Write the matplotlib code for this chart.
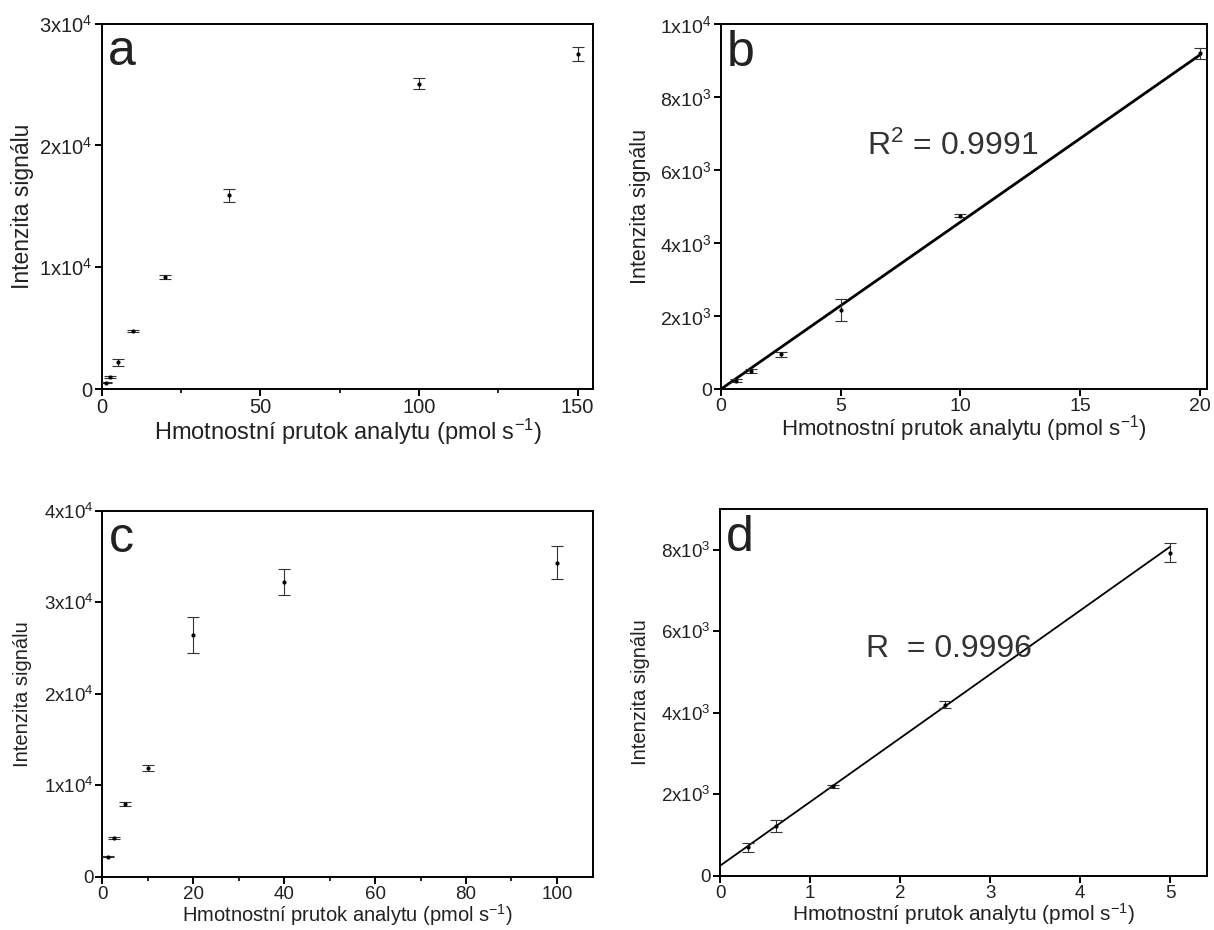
import numpy as np
import matplotlib
matplotlib.use("Agg")
import matplotlib.pyplot as plt
from matplotlib.ticker import FixedLocator, FuncFormatter, MultipleLocator

plt.rcParams['font.family'] = ['Liberation Sans', 'DejaVu Sans']
plt.rcParams['mathtext.fontset'] = 'custom'
plt.rcParams['mathtext.rm'] = 'Liberation Sans'
plt.rcParams['mathtext.it'] = 'Liberation Sans:italic'
plt.rcParams['mathtext.default'] = 'regular'

# prvni sada (a, b)
prutok_1 = [0.625, 1.25, 2.5, 5, 10, 20, 40, 100, 150]
signal_1 = [230, 510, 960, 2180, 4760, 9210, 15900, 25050, 27500]
chyba_1 = [40, 50, 70, 300, 50, 150, 550, 450, 600]

# druha sada (c, d)
prutok_2 = [0.3125, 0.625, 1.25, 2.5, 5, 10, 20, 40, 100]
signal_2 = [700, 1230, 2200, 4200, 7930, 11900, 26400, 32200, 34300]
chyba_2 = [110, 140, 40, 90, 230, 350, 2000, 1400, 1800]

# kalibracni primky (smernice, usek)
primka_b = (458, 0)
primka_d = (1565, 250)
rozsah_b = (0, 20)
rozsah_d = (0, 5)

text_b = 'R$^{2}$ = 0.9991'
text_d = 'R  = 0.9996'

xlabel = 'Hmotnostní prutok analytu (pmol s$^{-1}$)'
ylabel = 'Intenzita signálu'
barva_textu = '#222222'


def exp_format(exponent):
    def f(v, pos):
        if v == 0:
            return '0'
        return '%dx10$^{%d}$' % (round(v / 10**exponent), exponent)
    return FuncFormatter(f)


def panel(pozice, x, y, err, xlim, ylim, yticks, exponent, pismeno,
          minor=None, fx=15, fy=15, fticks=14.5, lx=-0.1, ly=-0.164):
    ax = plt.axes(pozice)
    ax.errorbar(x, y, yerr=err, fmt='o', ms=2.0, color='black', mfc='black',
                ecolor='#333333', elinewidth=0.8, capsize=4.5, capthick=0.8, zorder=3)
    ax.set_xlim(*xlim)
    ax.set_ylim(*ylim)
    ax.yaxis.set_major_locator(FixedLocator(yticks))
    ax.yaxis.set_major_formatter(exp_format(exponent))
    if minor is not None:
        ax.xaxis.set_minor_locator(MultipleLocator(minor))
    for s in ax.spines.values():
        s.set_linewidth(1.4)
    ax.tick_params(which='major', direction='out', length=5, width=1.4, pad=1.5,
                   labelsize=fticks, colors='black', labelcolor=barva_textu)
    ax.tick_params(which='minor', direction='out', length=3, width=1.2)
    ax.set_xlabel(xlabel, fontsize=fx, color=barva_textu, va='center')
    ax.set_ylabel(ylabel, fontsize=fy, color=barva_textu, va='center')
    ax.xaxis.set_label_coords(0.5, lx)
    ax.yaxis.set_label_coords(ly, 0.5)
    ax.text(0.013, 0.886, pismeno, transform=ax.transAxes, fontsize=36,
            color=barva_textu, ha='left', va='baseline')
    return ax


fig = plt.figure(figsize=(12.14, 9.30), dpi=100)

# a
ax = panel([0.0838, 0.5817, 0.405, 0.393], prutok_1[1:], signal_1[1:], chyba_1[1:],
           (0, 155), (0, 30000), [0, 10000, 20000, 30000], 4, 'a', minor=25,
           fx=17, fy=16.5, fticks=14.5, lx=-0.117, ly=-0.162)
ax.xaxis.set_major_locator(MultipleLocator(50))

# b
ax = panel([0.5937, 0.5814, 0.4006, 0.3925], prutok_1[:6], signal_1[:6], chyba_1[:6],
           (0, 20.3), (0, 10000), [0, 2000, 4000, 6000, 8000, 10000], 3, 'b',
           fx=16, fy=15.5, fticks=14, lx=-0.108, ly=-0.166)
ax.set_yticklabels(['0', '2x10$^{3}$', '4x10$^{3}$', '6x10$^{3}$', '8x10$^{3}$', '1x10$^{4}$'])
ax.xaxis.set_major_locator(MultipleLocator(5))
xb = np.array(rozsah_b)
ax.plot(xb, primka_b[0] * xb + primka_b[1], color='black', lw=2.0, zorder=2)
ax.text(0.301, 0.642, text_b, transform=ax.transAxes, fontsize=23, color='#333333',
        ha='left', va='baseline')

# c
ax = panel([0.0843, 0.0573, 0.4044, 0.3935], prutok_2[2:], signal_2[2:], chyba_2[2:],
           (0, 108), (0, 40000), [0, 10000, 20000, 30000, 40000], 4, 'c', minor=10,
           fx=14.5, fy=14.5, fticks=13.5, lx=-0.104, ly=-0.163)
ax.xaxis.set_major_locator(MultipleLocator(20))

# d
ax = panel([0.5931, 0.0581, 0.4012, 0.3946], prutok_2[:5], signal_2[:5], chyba_2[:5],
           (0, 5.41), (0, 9000), [0, 2000, 4000, 6000, 8000], 3, 'd',
           fx=15, fy=14.5, fticks=13.5, lx=-0.104, ly=-0.164)
ax.xaxis.set_major_locator(MultipleLocator(1))
xd = np.array(rozsah_d)
ax.plot(xd, primka_d[0] * xd + primka_d[1], color='black', lw=1.3, zorder=2)
ax.text(0.30, 0.597, text_d, transform=ax.transAxes, fontsize=23, color='#333333',
        ha='left', va='baseline')

plt.savefig('out.png', dpi=100, facecolor='white')
